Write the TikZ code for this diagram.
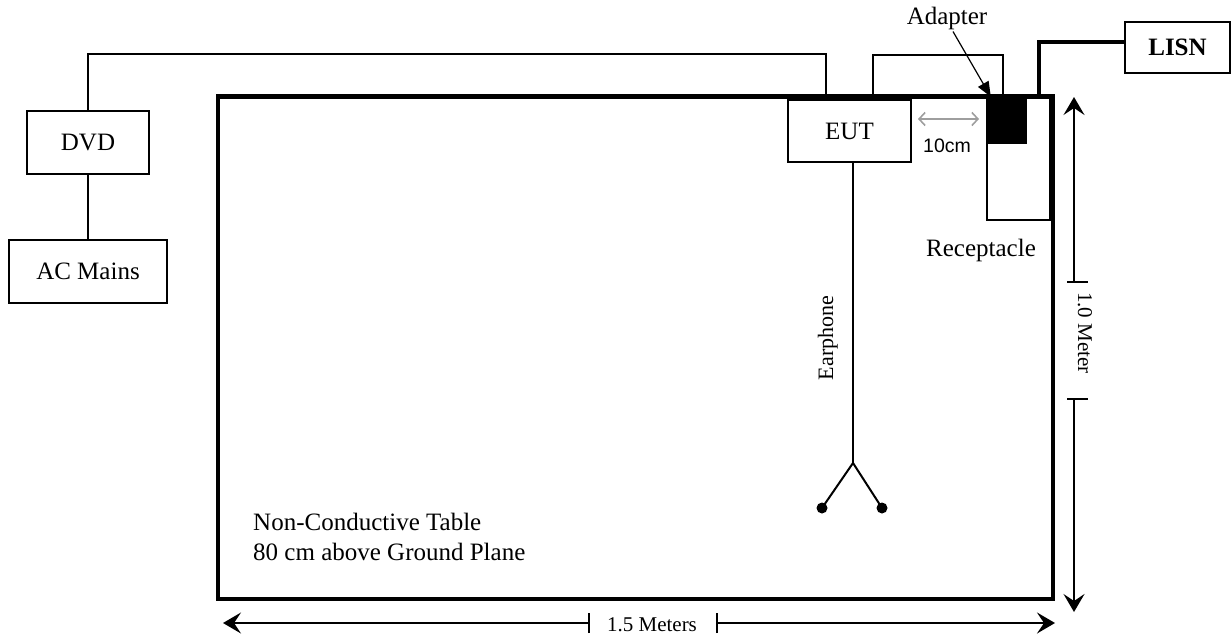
\documentclass[tikz,border=0pt]{standalone}
\usepackage{fontspec}
\setmainfont{Liberation Serif}
\newfontfamily\arialf{Liberation Sans}
\usetikzlibrary{arrows.meta}
\begin{document}
\begin{tikzpicture}[x=1pt,y=-1pt,
  box/.style={draw, line width=2pt, inner sep=0pt, font=\fontsize{25}{30}\selectfont},
  tablebox/.style={draw, line width=3.2pt, inner sep=0pt},
  wire/.style={line width=2pt},
  thickwire/.style={line width=3.6pt},
  dimline/.style={line width=1.6pt},
  dimtip/.style={-{Stealth[length=18pt,width=21pt,inset=7pt]}},
  lbl/.style={inner sep=0pt, font=\fontsize{25}{30}\selectfont},
  dimlbl/.style={inner sep=0pt, font=\fontsize{21}{25}\selectfont},
  dot/.style={circle, fill, inner sep=0pt, minimum size=11pt}
]
\useasboundingbox (0,0) rectangle (1231,637);

% table and equipment
\node[tablebox, minimum width=835pt, minimum height=502pt] (table) at (635.5,348) {};
\node[box, minimum width=122pt, minimum height=63pt] (DVD) at (88,142.5) {DVD};
\node[box, minimum width=158pt, minimum height=63pt] (AC) at (88,271.5) {AC Mains};
\node[box, minimum width=123pt, minimum height=62pt] (EUT) at (849.5,131) {EUT};
\node[box, minimum width=105pt, minimum height=51pt, font=\fontsize{25}{30}\selectfont\bfseries] (LISN) at (1177.5,47.5) {LISN};
\node[draw, line width=2pt, inner sep=0pt, minimum width=63pt, minimum height=123pt] (recept) at (1018.5,158.5) {};
\node[fill=black, inner sep=0pt, minimum width=39pt, minimum height=47pt] (adapter) at (1007.5,120.5) {};
\draw[line width=3.2pt] (table.north west) -- (table.north east);

% labels
\node[lbl] (adlabel) at (947,18) {Adapter};
\node[lbl, anchor=base] (reclabel) at (981,256) {Receptacle};
\node[inner sep=0pt, font=\arialf\fontsize{19.5}{23}\selectfont] (tencm) at (947,146) {10cm};
\node[lbl, anchor=base west] (tl1) at (253,530) {Non-Conductive Table};
\node[lbl, anchor=base west] (tl2) at (253,560) {80 cm above Ground Plane};

% wires
\coordinate (w1) at (826,54);
\coordinate (w2a) at (873,55);
\coordinate (w2b) at (1003,55);
\coordinate (w3) at (1039,42);
\draw[wire] (DVD.north) |- (w1) -- (w1 |- table.north);
\draw[wire] (w2a |- table.north) -- (w2a) -- (w2b) -- (w2b |- adapter.north);
\draw[thickwire] (w3 |- table.north) -- (w3) -- (w3 -| LISN.west);
\draw[wire] (DVD.south) -- (AC.north);

% adapter pointer
\draw[line width=1.2pt, -{Triangle[length=15pt,width=12pt]}] ([xshift=6pt,yshift=-2pt]adlabel.south) -- ([xshift=3pt]adapter.north west);

% 10 cm gap
\coordinate (g1) at (918,119);
\coordinate (g2) at (979,119);
\draw[line width=1.6pt, color=black!38, {Straight Barb[length=6pt,width=13pt]}-{Straight Barb[length=6pt,width=13pt]}] (g1) -- (g2);

% earphone
\coordinate (split) at (853,463);
\node[dot] (ear1) at (822,508) {};
\node[dot] (ear2) at (882,508) {};
\draw[wire] (split |- EUT.south) -- (split);
\draw[wire] (split) -- (ear1.center);
\draw[wire] (split) -- (ear2.center);
\node[inner sep=0pt, font=\fontsize{22}{26}\selectfont, rotate=90, anchor=base] (earlbl) at (833,338) {Earphone};

% vertical dimension
\coordinate (vt) at (1074,97);
\coordinate (vb) at (1074,612);
\coordinate (vk1) at (1074,282);
\coordinate (vk2) at (1074,399);
\draw[dimline, dimtip] (vk1) -- (vt);
\draw[dimline, dimtip] (vk2) -- (vb);
\draw[dimline] ([xshift=-7pt]vk1) -- ([xshift=14pt]vk1);
\draw[dimline] ([xshift=-7pt]vk2) -- ([xshift=14pt]vk2);
\node[dimlbl, rotate=-90, anchor=base] (vlbl) at (1078,333) {1.0 Meter};

% horizontal dimension
\coordinate (hl) at (223,623);
\coordinate (hr) at (1055,623);
\coordinate (hk1) at (589,623);
\coordinate (hk2) at (717,623);
\draw[dimline, dimtip] (hk1) -- (hl);
\draw[dimline, dimtip] (hk2) -- (hr);
\draw[dimline] ([yshift=-10pt]hk1) -- ([yshift=10pt]hk1);
\draw[dimline] ([yshift=-10pt]hk2) -- ([yshift=10pt]hk2);
\node[dimlbl, anchor=base] (hlbl) at (652,631) {1.5 Meters};
\end{tikzpicture}
\end{document}
